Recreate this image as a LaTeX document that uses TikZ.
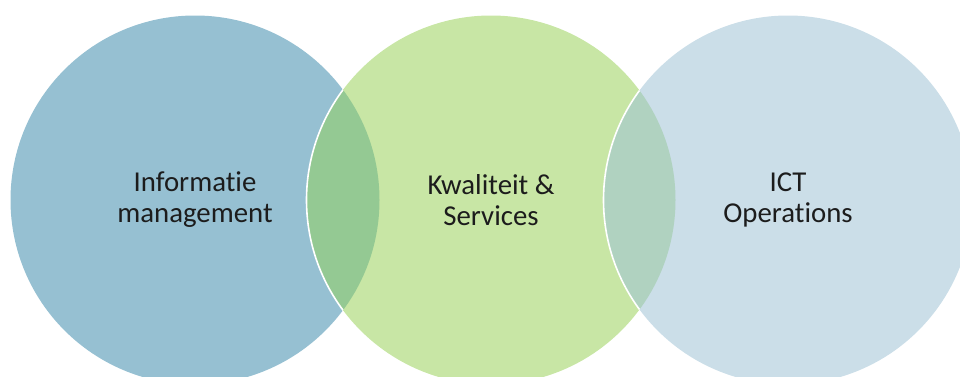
\documentclass[tikz,border=0pt]{standalone}
\usepackage{fontspec}
\setmainfont{Carlito}[Ligatures={NoCommon,NoRequired}]
\usepackage{tikz}
\usetikzlibrary{positioning}

\definecolor{infoblue}{HTML}{96C0D2}
\definecolor{kwalgreen}{HTML}{C8E6A5}
\definecolor{ictblue}{HTML}{CBDEE8}
\definecolor{lensgreen}{HTML}{94C993}
\definecolor{lensgrey}{HTML}{B0D2C0}
\definecolor{labeltext}{HTML}{1C1C1C}

\tikzset{
  venn/.style={circle, inner sep=0pt, outer sep=0pt, minimum size=276.75pt,
    align=center, text=labeltext, font=\fontsize{21.6}{23.3}\selectfont},
  seam/.style={draw=white, line width=1.2pt}
}

\begin{document}
\begin{tikzpicture}[x=0.75pt, y=0.75pt]
\useasboundingbox (0,0) rectangle (960,376);
\clip (0,0) rectangle (960,376);

\node[venn, fill=infoblue] (im) at (195,176) {Informatie\\management};
\node[venn, fill=kwalgreen] (ks) at (491,176) {Kwaliteit \&\\Services};
\node[venn, fill=ictblue] (ict) at (788,176) {ICT\\Operations};

% overlaps
\begin{scope}
\clip (im.center) circle (184.5);
\fill[lensgreen] (ks.center) circle (184.5);
\draw[seam] (ks.center) circle (184.5);
\end{scope}
\begin{scope}
\clip (ks.center) circle (184.5);
\fill[lensgrey] (ict.center) circle (184.5);
\draw[seam] (ict.center) circle (184.5);
\end{scope}
\end{tikzpicture}
\end{document}
